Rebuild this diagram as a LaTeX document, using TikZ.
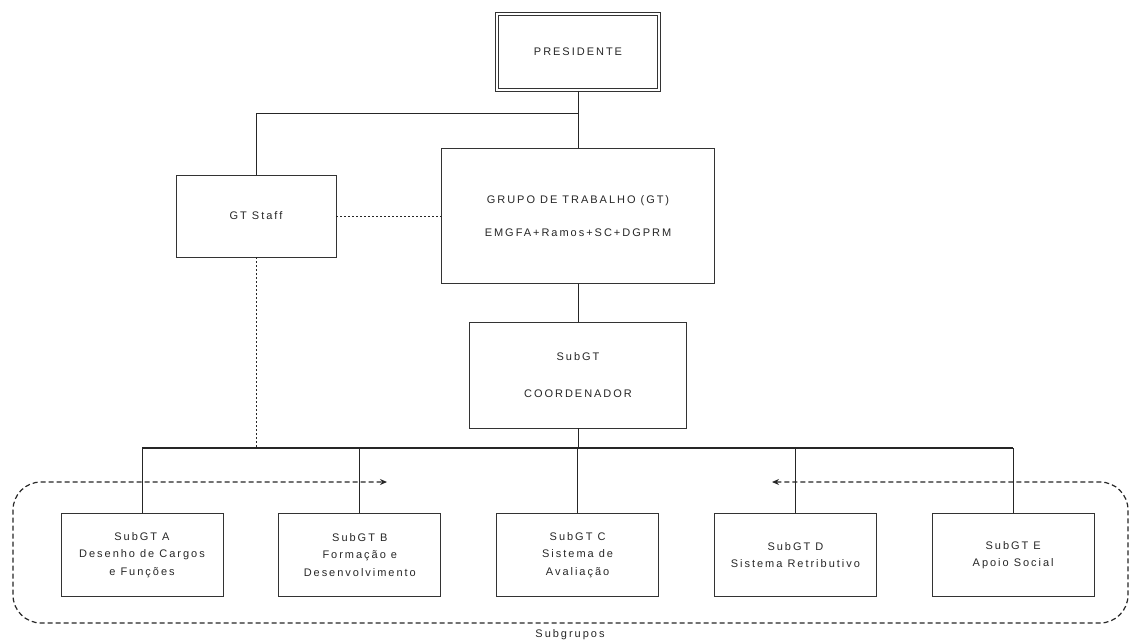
\documentclass[tikz,border=0pt]{standalone}
\usepackage{fontspec}
\setmainfont[LetterSpace=18]{Liberation Sans}
\usetikzlibrary{arrows.meta,positioning}

\begin{document}
\begin{tikzpicture}[
  x=1pt, y=-1pt,
  font=\fontsize{11}{17.5}\selectfont,
  >={Stealth[length=7pt,width=6pt]},
  line/.style={draw=black!85, line width=1pt},
  bus/.style={line, line width=1.7pt},
  dotline/.style={line, dash pattern=on 2pt off 2pt},
  frame/.style={line, line width=1.2pt, dash pattern=on 5pt off 3pt, rounded corners=28pt},
  box/.style={draw=black!80, line width=0.8pt, text=black!85, align=center, inner sep=2pt},
  presbox/.style={box, double=white, double distance=1.4pt, line width=1.5pt,
    minimum width=162pt, minimum height=76pt},
  staffbox/.style={box, minimum width=160pt, minimum height=82pt},
  gtbox/.style={box, minimum width=273pt, minimum height=135pt},
  coordbox/.style={box, minimum width=217pt, minimum height=106pt},
  subbox/.style={box, minimum width=162pt, minimum height=83pt},
  node distance=55pt
]
\useasboundingbox (0,0) rectangle (1135,643);

\node[presbox] (pres) at (578,52) {PRESIDENTE};
\node[staffbox] (staff) at (256,216) {GT Staff};
\node[gtbox] (gt) at (578,216) {GRUPO DE TRABALHO (GT)\\[16pt]EMGFA+Ramos+SC+DGPRM};
\node[coordbox] (coord) at (578,375) {SubGT\\[20pt]COORDENADOR};

\node[subbox] (subA) at (142,555) {SubGT A\\Desenho de Cargos\\e Funções};
\node[subbox, right=of subA] (subB) {SubGT B\\Formação e\\Desenvolvimento};
\node[subbox, right=of subB] (subC) {SubGT C\\Sistema de\\Avaliação};
\node[subbox, right=of subC] (subD) {SubGT D\\Sistema Retributivo};
\node[subbox, right=of subD] (subE) {SubGT E\\Apoio Social};

\coordinate (fork) at (578,113);
\coordinate (bus) at (578,448);

\draw[line] (pres.south) -- (gt.north);
\draw[line] (fork) -| (staff.north);
\draw[dotline] (staff.east) -- (gt.west);
\draw[line] (gt.south) -- (coord.north);
\draw[line] (coord.south) -- (bus);
\draw[bus] (subA.north |- bus) -- (subE.north |- bus);
\foreach \s in {subA,subB,subC,subD,subE}
  \draw[line] (\s.north |- bus) -- (\s.north);
\draw[dotline] (staff.south) -- (staff.south |- bus);

% subgroups frame
\coordinate (arrR) at (772,482);
\coordinate (arrL) at (387,482);
\coordinate (frNE) at (1128,482);
\coordinate (frSE) at (1128,623);
\coordinate (frSW) at (13,623);
\coordinate (frNW) at (13,482);
\draw[frame, <->] (arrR) -- (frNE) -- (frSE) -- (frSW) -- (frNW) -- (arrL);
\node[text=black!85] (subgrupos) at (570,635) {Subgrupos};

\end{tikzpicture}
\end{document}
